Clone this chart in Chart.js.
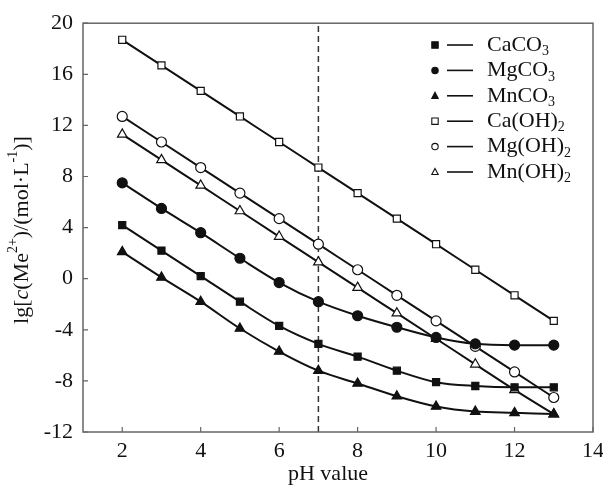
<!DOCTYPE html>
<html>
<head>
<meta charset="utf-8">
<script src="https://cdn.jsdelivr.net/npm/chart.js@4.4.1/dist/chart.umd.min.js"></script>
<style>
  html, body { margin: 0; padding: 0; background: #fff; }
  #wrap { width: 603px; height: 486px; }
</style>
</head>
<body>
<div id="wrap"><canvas id="chart" width="603" height="486"></canvas></div>
<script>
// pH values and lg c(Me2+) for each precipitate
const pH = [2, 3, 4, 5, 6, 7, 8, 9, 10, 11, 12, 13];
const caCO3 = [4.2, 2.2, 0.2, -1.8, -3.7, -5.1, -6.1, -7.2, -8.1, -8.4, -8.5, -8.5];
const mgCO3 = [7.5, 5.5, 3.6, 1.6, -0.3, -1.8, -2.9, -3.8, -4.6, -5.1, -5.2, -5.2];
const mnCO3 = [2.1, 0.1, -1.8, -3.9, -5.7, -7.2, -8.2, -9.2, -10.0, -10.4, -10.5, -10.6];
const caOH2 = [18.7, 16.7, 14.7, 12.7, 10.7, 8.7, 6.7, 4.7, 2.7, 0.7, -1.3, -3.3];
const mgOH2 = [12.7, 10.7, 8.7, 6.7, 4.7, 2.7, 0.7, -1.3, -3.3, -5.3, -7.3, -9.3];
const mnOH2 = [11.3, 9.3, 7.3, 5.3, 3.3, 1.3, -0.7, -2.7, -4.7, -6.7, -8.7, -10.6];

const xTicks = [2, 4, 6, 8, 10, 12, 14];
const refPH = 7;

const SERIF = '"Liberation Serif", "DejaVu Serif", serif';
const INK = '#111';
const FRAME = '#666';

// name is split in [main, subscript]
const seriesDefs = [
  { name: ['CaCO', '3'], data: caCO3, style: 'rect', fill: INK, radius: 5 },
  { name: ['MgCO', '3'], data: mgCO3, style: 'circle', fill: INK, radius: 5 },
  { name: ['MnCO', '3'], data: mnCO3, style: 'triangle', fill: INK, radius: 5.5 },
  { name: ['Ca(OH)', '2'], data: caOH2, style: 'rect', fill: '#fff', radius: 5 },
  { name: ['Mg(OH)', '2'], data: mgOH2, style: 'circle', fill: '#fff', radius: 5 },
  { name: ['Mn(OH)', '2'], data: mnOH2, style: 'triangle', fill: '#fff', radius: 5.5 }
];

function toPoints(values) {
  return pH.map((x, i) => ({ x: x, y: values[i] }));
}

const datasets = seriesDefs.map(s => ({
  label: s.name.join(''),
  data: toPoints(s.data),
  borderColor: INK,
  borderWidth: 2,
  cubicInterpolationMode: 'monotone',
  pointStyle: s.style,
  pointRadius: s.radius,
  pointBackgroundColor: s.fill,
  pointBorderColor: INK,
  pointBorderWidth: 1.2
}));

// dashed reference line at pH 7
datasets.push({
  label: 'pH 7',
  data: [{ x: refPH, y: -12 }, { x: refPH, y: 20 }],
  borderColor: '#333',
  borderWidth: 1.5,
  borderDash: [6, 4],
  pointRadius: 0
});

function drawMarker(ctx, style, x, y, r, fill) {
  ctx.save();
  ctx.fillStyle = fill;
  ctx.strokeStyle = INK;
  ctx.lineWidth = 1.1;
  ctx.beginPath();
  if (style === 'rect') {
    ctx.rect(x - r, y - r, 2 * r, 2 * r);
  } else if (style === 'circle') {
    ctx.arc(x, y, r, 0, Math.PI * 2);
  } else {
    ctx.moveTo(x, y - r * 1.1);
    ctx.lineTo(x + r, y + r * 0.8);
    ctx.lineTo(x - r, y + r * 0.8);
    ctx.closePath();
  }
  ctx.fill();
  ctx.stroke();
  ctx.restore();
}

// draws a run of text pieces: [text, kind] where kind is '', 'i', 'sup', 'sub'
function drawRich(ctx, pieces, x, y, size) {
  let cx = x;
  pieces.forEach(p => {
    const small = p[1] === 'sup' || p[1] === 'sub';
    const fs = small ? Math.round(size * 0.62) : size;
    ctx.font = (p[1] === 'i' ? 'italic ' : '') + fs + 'px ' + SERIF;
    let dy = 0;
    if (p[1] === 'sup') dy = -size * 0.38;
    if (p[1] === 'sub') dy = size * 0.3;
    ctx.fillText(p[0], cx, y + dy);
    cx += ctx.measureText(p[0]).width;
  });
  return cx - x;
}

function richWidth(ctx, pieces, size) {
  let w = 0;
  pieces.forEach(p => {
    const small = p[1] === 'sup' || p[1] === 'sub';
    const fs = small ? Math.round(size * 0.62) : size;
    ctx.font = (p[1] === 'i' ? 'italic ' : '') + fs + 'px ' + SERIF;
    w += ctx.measureText(p[0]).width;
  });
  return w;
}

const decorations = {
  id: 'decorations',
  afterDraw(chart) {
    const ctx = chart.ctx;
    const a = chart.chartArea;
    const xs = chart.scales.x;
    const ys = chart.scales.y;

    // frame
    ctx.save();
    ctx.strokeStyle = FRAME;
    ctx.lineWidth = 1.5;
    ctx.strokeRect(a.left, a.top, a.right - a.left, a.bottom - a.top);

    // inward tick marks
    ctx.lineWidth = 1.2;
    ctx.beginPath();
    xs.ticks.forEach(t => {
      const px = xs.getPixelForValue(t.value);
      ctx.moveTo(px, a.bottom);
      ctx.lineTo(px, a.bottom - 5);
    });
    ys.ticks.forEach(t => {
      const py = ys.getPixelForValue(t.value);
      ctx.moveTo(a.left, py);
      ctx.lineTo(a.left + 5, py);
    });
    ctx.stroke();
    ctx.restore();

    // axis titles
    ctx.save();
    ctx.fillStyle = INK;
    ctx.textBaseline = 'middle';
    ctx.textAlign = 'center';
    ctx.font = '22px ' + SERIF;
    ctx.fillText('pH value', 328, 474);

    const yTitle = [
      ['lg[', ''], ['c', 'i'], ['(Me', ''], ['2+', 'sup'],
      [')/(mol\u00b7L', ''], ['-1', 'sup'], [')]', '']
    ];
    ctx.textAlign = 'left';
    const w = richWidth(ctx, yTitle, 22);
    ctx.translate(22, 230);
    ctx.rotate(-Math.PI / 2);
    drawRich(ctx, yTitle, -w / 2, 0, 22);
    ctx.restore();

    // legend
    ctx.save();
    ctx.fillStyle = INK;
    ctx.textBaseline = 'middle';
    ctx.textAlign = 'left';
    seriesDefs.forEach((s, i) => {
      const ly = 45 + i * 25.4;
      drawMarker(ctx, s.style, 435, ly, 3.2, s.fill);
      ctx.strokeStyle = INK;
      ctx.lineWidth = 1.6;
      ctx.beginPath();
      ctx.moveTo(447, ly);
      ctx.lineTo(473, ly);
      ctx.stroke();
      ctx.fillStyle = INK;
      drawRich(ctx, [[s.name[0], ''], [s.name[1], 'sub']], 487, ly, 22);
    });
    ctx.restore();
  }
};

new Chart(document.getElementById('chart'), {
  type: 'line',
  data: { datasets: datasets },
  options: {
    responsive: false,
    animation: false,
    layout: { padding: { top: 21, right: 0, left: 0, bottom: 0 } },
    plugins: {
      legend: { display: false },
      tooltip: { enabled: false }
    },
    scales: {
      x: {
        type: 'linear',
        min: 1,
        max: 14,
        afterBuildTicks: scale => {
          scale.ticks = xTicks.map(v => ({ value: v }));
        },
        afterFit: scale => {
          scale.height = 54;
          scale.paddingRight = 10;
        },
        grid: { display: false, drawTicks: false },
        border: { display: false },
        ticks: {
          color: INK,
          padding: 6,
          maxRotation: 0,
          font: { family: SERIF, size: 22 }
        }
      },
      y: {
        type: 'linear',
        min: -12,
        max: 20,
        afterFit: scale => { scale.width = 83; },
        grid: { display: false, drawTicks: false },
        border: { display: false },
        ticks: {
          stepSize: 4,
          color: INK,
          padding: 10,
          font: { family: SERIF, size: 22 }
        }
      }
    }
  },
  plugins: [decorations]
});
</script>
</body>
</html>
